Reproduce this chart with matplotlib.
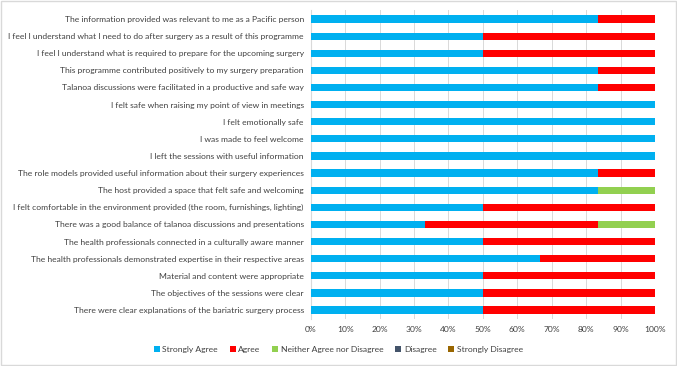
import numpy as np
import matplotlib.pyplot as plt
from matplotlib.patches import Rectangle

# ==== datos ====
preguntas = [
    "The information provided was relevant to me as a Pacific person",
    "I feel I understand what I need to do after surgery as a result of this programme",
    "I feel I understand what is required to prepare for the upcoming surgery",
    "This programme contributed positively to my surgery preparation",
    "Talanoa discussions were facilitated in a productive and safe way",
    "I felt safe when raising my point of view in meetings",
    "I felt emotionally safe",
    "I was made to feel welcome",
    "I left the sessions with useful information",
    "The role models provided useful information about their surgery experiences",
    "The host provided a space that felt safe and welcoming",
    "I felt comfortable in the environment provided (the room, furnishings, lighting)",
    "There was a good balance of talanoa discussions and presentations",
    "The health professionals connected in a culturally aware manner",
    "The health professionals demonstrated expertise in their respective areas",
    "Material and content were appropriate",
    "The objectives of the sessions were clear",
    "There were clear explanations of the bariatric surgery process",
]
strongly_agree = [83.3, 50, 50, 83.3, 83.3, 100, 100, 100, 100, 83.3, 83.3, 50, 33.3, 50, 66.7, 50, 50, 50]
agree = [16.7, 50, 50, 16.7, 16.7, 0, 0, 0, 0, 16.7, 0, 50, 50, 50, 33.3, 50, 50, 50]
neither = [0, 0, 0, 0, 0, 0, 0, 0, 0, 0, 16.7, 0, 16.7, 0, 0, 0, 0, 0]
disagree = [0] * 18
strongly_disagree = [0] * 18

series = [
    ("Strongly Agree", strongly_agree, "#00B0F0"),
    ("Agree", agree, "#FF0000"),
    ("Neither Agree nor Disagree", neither, "#92D050"),
    ("Disagree", disagree, "#44546A"),
    ("Strongly Disagree", strongly_disagree, "#996600"),
]

plt.rcParams['font.family'] = ['Lato', 'DejaVu Sans']

fig = plt.figure(figsize=(6.77, 3.66), dpi=100)
ax = fig.add_axes([0.459, 0.1295, 0.5085, 0.842])

y = np.arange(len(preguntas))
izq = np.zeros(len(preguntas))
for nombre, vals, color in series:
    vals = np.array(vals, dtype=float)
    ax.barh(y, vals, left=izq, height=0.42, color=color, label=nombre, zorder=3)
    izq += vals

ax.set_ylim(len(preguntas) - 0.5, -0.5)
ax.set_xlim(0, 100)
ax.set_yticks(y)
ax.set_yticklabels(preguntas, fontsize=6.1, color="#404040")
ax.set_xticks(np.arange(0, 101, 10))
ax.set_xticklabels([f"{v}%" for v in range(0, 101, 10)], fontsize=6.1, color="#404040")
ax.tick_params(length=0, pad=5)
ax.grid(axis="x", color="#D9D9D9", lw=0.7, zorder=0)
for s in ["top", "right", "bottom"]:
    ax.spines[s].set_visible(False)
ax.spines["left"].set_color("#D9D9D9")

fig.legend(loc="center", bbox_to_anchor=(0.5, 0.045), ncol=5, fontsize=6.1,
           frameon=False, handlelength=0.7, handleheight=0.7, handletextpad=0.3,
           columnspacing=1.4, labelcolor="#404040")

fig.patches.append(Rectangle((0.002, 0.004), 0.996, 0.992, transform=fig.transFigure,
                             fill=False, edgecolor="#D9D9D9", lw=1))

fig.savefig("out.png", dpi=100)
